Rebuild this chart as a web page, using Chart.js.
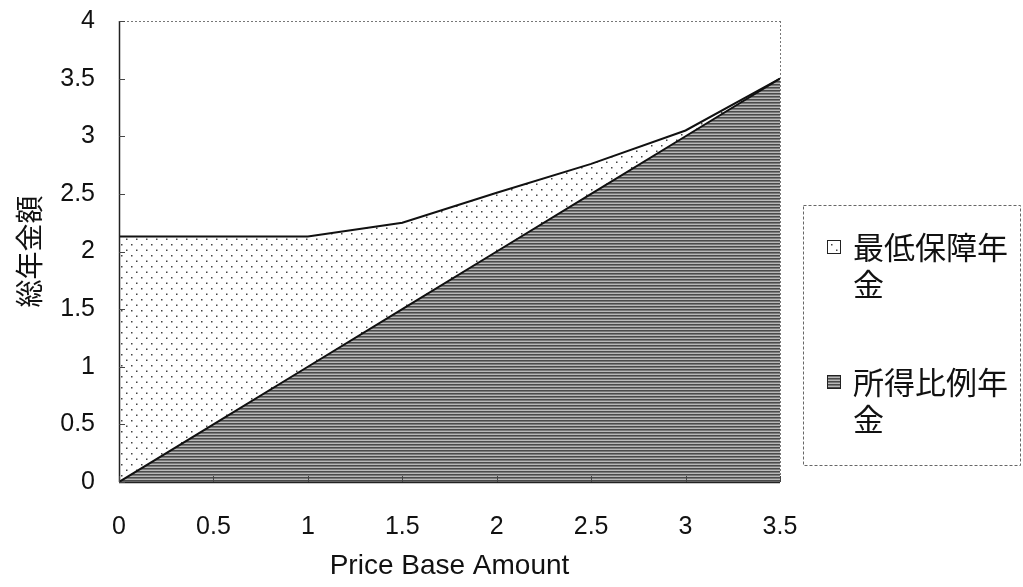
<!DOCTYPE html>
<html>
<head>
<meta charset="utf-8">
<script src="https://cdn.jsdelivr.net/npm/chart.js@4.4.1/dist/chart.umd.min.js"></script>
<style>
  html, body { margin: 0; padding: 0; background: #fff; }
  #wrap { width: 1023px; height: 587px; position: relative; }
</style>
</head>
<body>
<div id="wrap"><canvas id="c" width="1023" height="587"></canvas></div>
<script>
// ---- Data ----
const xValues = [0, 0.5, 1, 1.5, 2, 2.5, 3, 3.5];
const earningsPension = [0, 0.5, 1, 1.5, 2, 2.5, 3, 3.5];          // 所得比例年金
const guaranteePension = [2.13, 1.63, 1.13, 0.75, 0.51, 0.26, 0.05, 0]; // 最低保障年金
const seriesNames = ['最低保障年金', '所得比例年金'];
const legendLines = [['最低保障年', '金'], ['所得比例年', '金']];
const xTitle = 'Price Base Amount';
const yTitle = '総年金額';

// ---- Patterns ----
function dotPattern() {
  const t = document.createElement('canvas');
  t.width = 10; t.height = 11;
  const g = t.getContext('2d');
  g.fillStyle = '#fff'; g.fillRect(0, 0, 10, 11);
  g.fillStyle = '#444';
  g.fillRect(1, 2, 1.5, 1.5);
  g.fillRect(6, 7.5, 1.5, 1.5);
  return g.createPattern(t, 'repeat');
}
function linePattern() {
  const t = document.createElement('canvas');
  t.width = 8; t.height = 3;
  const g = t.getContext('2d');
  g.fillStyle = '#b8b8b8'; g.fillRect(0, 0, 8, 3);
  g.fillStyle = '#4a4a4a'; g.fillRect(0, 0, 8, 1);
  g.fillStyle = '#7a7a7a'; g.fillRect(0, 1, 8, 1);
  return g.createPattern(t, 'repeat');
}
const ctx0 = document.getElementById('c').getContext('2d');
const dotFill = dotPattern();
const lineFill = linePattern();

const numFont = "'Liberation Sans', Arial, sans-serif";
const cjkFont = "'Noto Sans CJK JP', sans-serif";

// ---- Plugins ----
const frameAndTicks = {
  id: 'frameAndTicks',
  afterDatasetsDraw(chart) {
    const { ctx, chartArea: a, scales: { x, y } } = chart;
    ctx.save();
    ctx.strokeStyle = '#777';
    ctx.lineWidth = 1;
    ctx.setLineDash([2, 2]);
    ctx.beginPath();
    ctx.moveTo(a.left, a.top + 0.5); ctx.lineTo(a.right, a.top + 0.5);
    ctx.moveTo(a.right + 0.5, a.top); ctx.lineTo(a.right + 0.5, a.bottom);
    ctx.stroke();
    ctx.setLineDash([]);
    ctx.strokeStyle = '#222';
    ctx.lineWidth = 1.5;
    ctx.beginPath();
    ctx.moveTo(a.left + 0.5, a.top); ctx.lineTo(a.left + 0.5, a.bottom);
    ctx.moveTo(a.left, a.bottom + 0.5); ctx.lineTo(a.right, a.bottom + 0.5);
    ctx.stroke();
    ctx.lineWidth = 1;
    ctx.strokeStyle = '#444';
    ctx.beginPath();
    y.ticks.forEach(t => {
      const py = Math.round(y.getPixelForValue(t.value)) + 0.5;
      ctx.moveTo(a.left, py); ctx.lineTo(a.left + 6, py);
    });
    x.ticks.forEach(t => {
      const px = Math.round(x.getPixelForValue(t.value)) + 0.5;
      ctx.moveTo(px, a.bottom); ctx.lineTo(px, a.bottom - 6);
    });
    ctx.stroke();
    ctx.restore();
  },
  afterDraw(chart) {
    const ctx = chart.ctx;
    ctx.save();
    const bx = 803, by = 205, bw = 217, bh = 260;
    ctx.strokeStyle = '#666';
    ctx.lineWidth = 1;
    ctx.setLineDash([3, 2]);
    ctx.strokeRect(bx + 0.5, by + 0.5, bw, bh);
    ctx.setLineDash([]);
    const fills = [dotFill, lineFill];
    const itemY = [247, 382];
    ctx.font = "31px " + cjkFont;
    ctx.textBaseline = 'middle';
    for (let i = 0; i < 2; i++) {
      const sy = itemY[i] - 7;
      ctx.fillStyle = fills[i];
      ctx.fillRect(827, sy, 14, 14);
      ctx.strokeStyle = '#222';
      ctx.lineWidth = 1;
      ctx.strokeRect(827.5, sy + 0.5, 13, 13);
      ctx.fillStyle = '#111';
      ctx.fillText(legendLines[i][0], 853, itemY[i]);
      ctx.fillText(legendLines[i][1], 853, itemY[i] + 37);
    }
    ctx.restore();
  }
};

new Chart(ctx0, {
  type: 'line',
  data: {
    labels: xValues,
    datasets: [
      {
        label: seriesNames[1],
        data: xValues.map((v, i) => ({ x: v, y: earningsPension[i] })),
        fill: 'origin',
        backgroundColor: lineFill,
        borderColor: '#111',
        borderWidth: 2,
        pointRadius: 0,
        tension: 0
      },
      {
        label: seriesNames[0],
        data: xValues.map((v, i) => ({ x: v, y: guaranteePension[i] })),
        fill: '-1',
        backgroundColor: dotFill,
        borderColor: '#111',
        borderWidth: 2,
        pointRadius: 0,
        tension: 0
      }
    ]
  },
  options: {
    responsive: false,
    animation: false,
    layout: { padding: { top: 21, right: 243, left: 0, bottom: 0 } },
    plugins: { legend: { display: false }, tooltip: { enabled: false } },
    scales: {
      x: {
        type: 'linear',
        min: 0, max: 3.5,
        border: { display: false },
        grid: { display: false },
        ticks: {
          stepSize: 0.5,
          padding: 22,
          color: '#111',
          font: { family: numFont, size: 25 },
          maxRotation: 0,
          callback: v => String(v)
        },
        title: {
          display: true,
          text: xTitle,
          color: '#111',
          font: { family: numFont, size: 28 },
          padding: { top: 6 }
        },
        afterFit(s) { s.height = 105; s.paddingLeft = 0; s.paddingRight = 0; }
      },
      y: {
        stacked: true,
        min: 0, max: 4,
        border: { display: false },
        grid: { display: false },
        ticks: {
          stepSize: 0.5,
          padding: 16,
          color: '#111',
          font: { family: numFont, size: 25 },
          callback: v => String(v)
        },
        title: {
          display: true,
          text: yTitle,
          color: '#111',
          font: { family: cjkFont, size: 28 },
          padding: { top: 13, bottom: 0 }
        },
        afterFit(s) { s.width = 119; s.paddingTop = 0; s.paddingBottom = 0; }
      }
    }
  },
  plugins: [frameAndTicks]
});
</script>
</body>
</html>
